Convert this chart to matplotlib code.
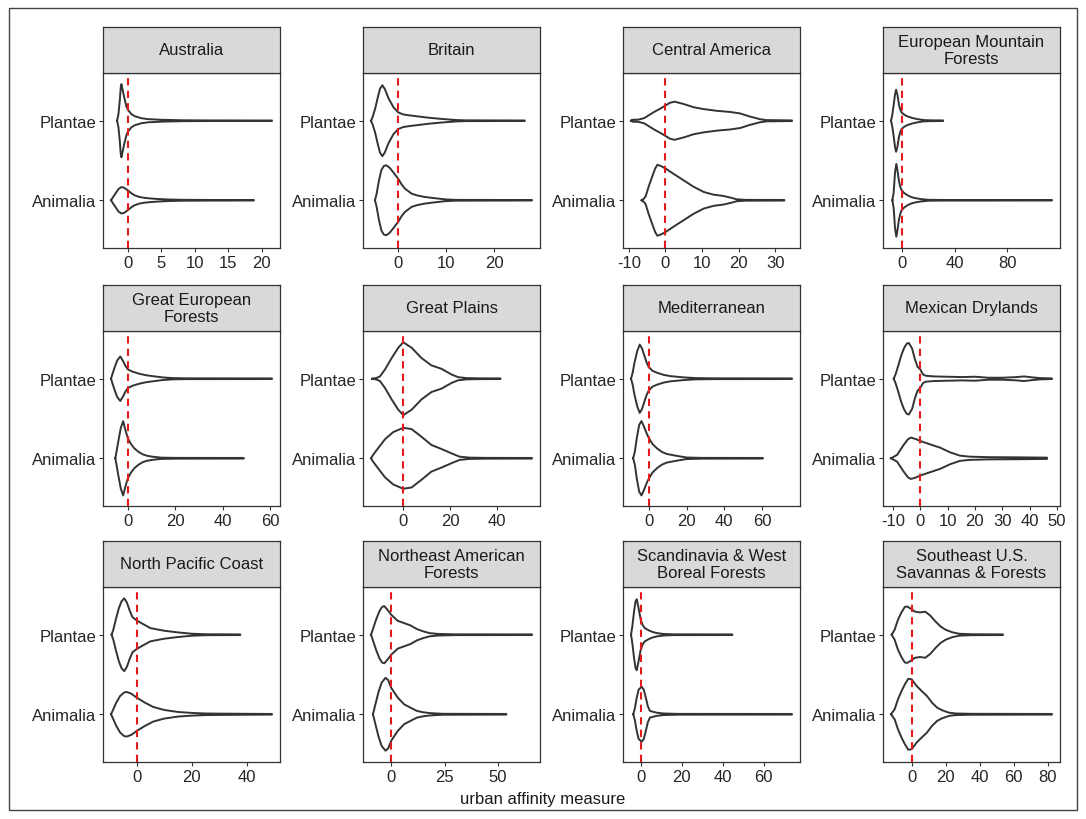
import matplotlib.pyplot as plt
from matplotlib.patches import Rectangle

plt.rcParams['font.family'] = ['Liberation Sans', 'DejaVu Sans']
plt.rcParams['axes.unicode_minus'] = False

# facet titles, in panel order (row by row)
regions = ["Australia", "Britain", "Central America", "European Mountain\nForests",
           "Great European\nForests", "Great Plains", "Mediterranean", "Mexican Drylands",
           "North Pacific Coast", "Northeast American\nForests",
           "Scandinavia & West\nBoreal Forests", "Southeast U.S.\nSavannas & Forests"]

x_ticks = [[0, 5, 10, 15, 20], [0, 10, 20], [-10, 0, 10, 20, 30], [0, 40, 80],
           [0, 20, 40, 60], [0, 20, 40], [0, 20, 40, 60], [-10, 0, 10, 20, 30, 40, 50],
           [0, 20, 40], [0, 25, 50], [0, 20, 40, 60], [0, 20, 40, 60, 80]]

# violin outlines: (urban affinity, half width)
aus_plantae = [(-1.6, 0), (-1.4, .08), (-1.2, .25), (-1.05, .42), (-.95, .46), (-.8, .40), (-.5, .28),
               (-.2, .18), (0, .14), (.5, .085), (1, .058), (2, .032), (3, .02), (5, .012), (8, .006),
               (12, .004), (21.5, .003)]
aus_animalia = [(-2.5, 0), (-2.2, .04), (-1.8, .09), (-1.4, .14), (-1.0, .165), (-.6, .16), (0, .125),
                (.5, .09), (1, .063), (1.7, .042), (2.5, .03), (3.5, .022), (4.5, .016), (6, .01), (8, .006),
                (12, .004), (18.8, .003)]
bri_plantae = [(-5.65, 0), (-5.3, .05), (-4.8, .15), (-4.3, .28), (-3.8, .4), (-3.3, .446), (-2.8, .4),
               (-2.0, .28), (-1.0, .17), (0, .105), (1, .08), (2, .07), (4, .055), (6, .04), (8, .028),
               (10, .018), (12, .009), (14, .005), (26.3, .003)]
bri_animalia = [(-4.83, 0), (-4.5, .08), (-4.0, .25), (-3.5, .38), (-3.0, .43), (-2.5, .44), (-1.8, .41),
                (-1.0, .35), (0, .27), (.7, .2), (1.4, .146), (2.8, .083), (4, .06), (5.5, .042), (7, .03),
                (8.5, .02), (10, .01), (12, .005), (27.8, .003)]
cam_plantae = [(-9.4, 0), (-9.0, .012), (-7.4, .014), (-5.8, .033), (-4.5, .07), (-3.1, .11), (-1.5, .15),
               (0, .19), (1.2, .225), (2.5, .24), (5, .21), (7.7, .17), (10.5, .146), (14, .125),
               (17.7, .11), (20.4, .092), (23, .054), (25.8, .02), (27.6, .008), (34.6, .004)]
cam_animalia = [(-6.5, 0), (-5.9, .02), (-5.4, .05), (-4.6, .17), (-3.6, .3), (-2.8, .4), (-2.2, .446),
                (-1.2, .43), (0, .4), (2.3, .33), (5, .25), (7.7, .17), (10.5, .104), (13.2, .07),
                (15.9, .054), (18.1, .03), (19.5, .012), (22, .005), (32.5, .004)]
emf_plantae = [(-8, 0), (-7, .08), (-6, .2), (-5, .33), (-4.2, .39), (-3.2, .33), (-2, .2), (-1, .14),
               (0, .104), (2, .075), (4.5, .054), (8, .035), (12, .02), (17, .008), (22, .005), (31.4, .004)]
emf_animalia = [(-7, 0), (-6, .1), (-5, .35), (-4, .458), (-3, .36), (-2, .24), (-1, .17), (0, .125),
                (2, .09), (4.5, .0625), (7, .042), (9.5, .03), (14.5, .015), (20, .006), (30, .004),
                (113.7, .003)]
gef_plantae = [(-7.1, 0), (-6.5, .06), (-5.5, .15), (-4.5, .23), (-3.2, .28), (-2, .22), (-1, .16),
               (0, .117), (2, .088), (4.8, .0625), (7.5, .045), (10.3, .033), (14.5, .017), (18.7, .008),
               (25, .005), (60.7, .004)]
gef_animalia = [(-5.3, 0), (-4.8, .08), (-4, .22), (-3, .38), (-2, .467), (-1, .35), (0, .25), (1.3, .18),
                (2.7, .125), (4.5, .08), (6.2, .05), (8, .032), (10.3, .02), (14, .008), (20, .005),
                (48.8, .004)]
gpl_plantae = [(-12.8, 0), (-11, .01), (-9.5, .03), (-7.4, .117), (-4.6, .26), (-1.8, .39), (.3, .458),
               (3.8, .39), (8, .26), (12.2, .167), (16.4, .125), (20.6, .054), (23.4, .02), (27, .008),
               (32, .005), (41.3, .004)]
gpl_animalia = [(-13.3, 0), (-12.5, .04), (-11, .1), (-7.4, .24), (-3.9, .33), (.3, .383), (3.8, .367),
                (8, .27), (12.2, .167), (16.4, .117), (20.6, .0625), (24.1, .02), (28.4, .008), (35, .005),
                (54.6, .004)]
med_plantae = [(-9.3, 0), (-8.5, .07), (-7.5, .2), (-6, .35), (-4.7, .43), (-3.5, .38), (-2, .27),
               (-1, .2), (0, .15), (2, .1), (4.4, .075), (8, .048), (11.4, .033), (18.4, .017), (25, .008),
               (35, .005), (75.7, .004)]
med_animalia = [(-8.2, 0), (-7.3, .08), (-6.3, .25), (-5, .42), (-3.8, .467), (-2.5, .4), (-1, .31),
                (0, .26), (2, .18), (4.4, .125), (7, .08), (9.6, .054), (14.9, .03), (20, .01), (28, .005),
                (60.3, .004)]
mex_plantae = [(-9.7, 0), (-9, .06), (-8, .17), (-7, .29), (-6, .38), (-5, .44), (-4.2, .45), (-3, .38),
               (-2, .25), (-1, .15), (0, .117), (1, .054), (2, .0375), (5, .029), (10, .025), (15, .021),
               (20, .025), (25, .0125), (30, .0125), (35, .02), (38, .029), (41, .017), (44, .008),
               (48.2, .004)]
mex_animalia = [(-10.7, 0), (-8.5, .042), (-6.1, .167), (-4.5, .24), (-3.4, .26), (-1.5, .24), (0, .217),
                (3.6, .175), (7.3, .133), (10.9, .075), (14.5, .033), (18.2, .02), (25, .014), (35, .012),
                (46.4, .008)]
npc_plantae = [(-9.1, 0), (-8.5, .06), (-7.5, .2), (-6.5, .33), (-5.5, .42), (-4.5, .458), (-3.5, .4),
               (-2.5, .3), (-1.5, .22), (0, .18), (2, .14), (5, .083), (10, .05), (15, .029), (20, .0125),
               (25, .006), (37.6, .004)]
npc_animalia = [(-9.3, 0), (-8.5, .06), (-7.5, .14), (-6, .23), (-4.5, .275), (-3.6, .28), (-2, .26),
                (0, .21), (3, .146), (6, .092), (10, .054), (15, .029), (20, .017), (25, .01), (30, .008),
                (49.1, .004)]
nea_plantae = [(-9.5, 0), (-8.5, .08), (-7, .2), (-5.5, .3), (-4.3, .35), (-3.3, .36), (-2, .32), (0, .25),
               (3, .175), (6, .146), (9, .117), (12, .071), (15, .042), (18, .02), (22, .01), (30, .005),
               (65.9, .004)]
nea_animalia = [(-8.6, 0), (-7.5, .12), (-6, .28), (-4.5, .4), (-2.7, .458), (-1.5, .43), (0, .33),
                (3, .21), (6, .125), (9, .083), (12, .042), (15, .025), (18, .015), (24, .006), (53.9, .004)]
sca_plantae = [(-4.7, 0), (-4, .12), (-3.2, .3), (-2.5, .42), (-1.9, .446), (-1, .33), (0, .19), (1, .12),
               (2, .083), (4, .054), (6, .033), (8, .02), (11, .01), (16, .005), (44.7, .004)]
sca_animalia = [(-3.6, 0), (-2.8, .08), (-2, .2), (-1, .31), (.5, .346), (1.5, .31), (2.5, .21), (3.5, .1),
                (4.5, .042), (7.8, .02), (11, .01), (18, .005), (73.8, .004)]
seu_plantae = [(-11.7, 0), (-10, .0625), (-8, .19), (-6, .28), (-4, .35), (-2.5, .354), (0, .32), (2, .29),
               (5, .28), (8, .29), (11, .24), (14, .167), (17, .104), (20, .0625), (24, .03), (28, .012),
               (35, .006), (53.7, .004)]
seu_animalia = [(-12.1, 0), (-10, .0625), (-8, .19), (-6, .29), (-4, .375), (-2, .446), (0, .44), (3, .354),
                (6, .29), (9, .23), (12, .146), (15, .083), (18, .05), (22, .02), (26, .01), (35, .006),
                (82.5, .004)]

plantae = [aus_plantae, bri_plantae, cam_plantae, emf_plantae, gef_plantae, gpl_plantae,
           med_plantae, mex_plantae, npc_plantae, nea_plantae, sca_plantae, seu_plantae]
animalia = [aus_animalia, bri_animalia, cam_animalia, emf_animalia, gef_animalia, gpl_animalia,
            med_animalia, mex_animalia, npc_animalia, nea_animalia, sca_animalia, seu_animalia]
kingdoms = ["Animalia", "Plantae"]

W, H = 1086, 820
fig = plt.figure(figsize=(W / 100, H / 100), dpi=100)

col_left = [103, 363, 623, 883]
row_top = [74, 332, 588]
pw, ph, sh = 177, 175, 46
dark = '#333333'


def draw_violin(ax, knots, ypos):
    xs = [k[0] for k in knots]
    ws = [k[1] for k in knots]
    ox = xs + xs[::-1] + [xs[0]]
    oy = [ypos + w for w in ws] + [ypos - w for w in ws[::-1]] + [ypos]
    ax.plot(ox, oy, color=dark, lw=1.4, solid_joinstyle='round')


for i, name in enumerate(regions):
    r, c = divmod(i, 4)
    left, top = col_left[c], row_top[r]
    ax = fig.add_axes([left / W, 1 - (top + ph) / H, pw / W, ph / H])
    draw_violin(ax, animalia[i], 1)
    draw_violin(ax, plantae[i], 2)
    ax.margins(x=0.05)
    ax.set_ylim(0.4, 2.6)
    ax.axvline(0, color='#e41a1c', lw=1.5, ls=(0, (3.5, 2.5)))
    ax.set_yticks([1, 2], kingdoms)
    ax.set_xticks(x_ticks[i])
    ax.tick_params(length=3, width=0.8, color=dark, labelsize=12, labelcolor='#262626', pad=2)
    for s in ax.spines.values():
        s.set_color(dark)
        s.set_linewidth(0.9)

    # grey facet strip
    sax = fig.add_axes([left / W, 1 - top / H, pw / W, sh / H])
    sax.set_facecolor('#d9d9d9')
    sax.set_xticks([])
    sax.set_yticks([])
    for s in sax.spines.values():
        s.set_color(dark)
        s.set_linewidth(0.9)
    sax.text(0.5, 0.5, name, ha='center', va='center', fontsize=12, color='#1a1a1a',
             linespacing=1.1, transform=sax.transAxes)

fig.text(543 / W, 1 - 800 / H, 'urban affinity measure', ha='center', va='center', fontsize=12,
         color='#1a1a1a')
fig.patches.append(Rectangle((9 / W, 9 / H), 1068 / W, 802 / H, transform=fig.transFigure,
                             fill=False, ec='#444444', lw=1))

plt.savefig('out.png', dpi=100)
